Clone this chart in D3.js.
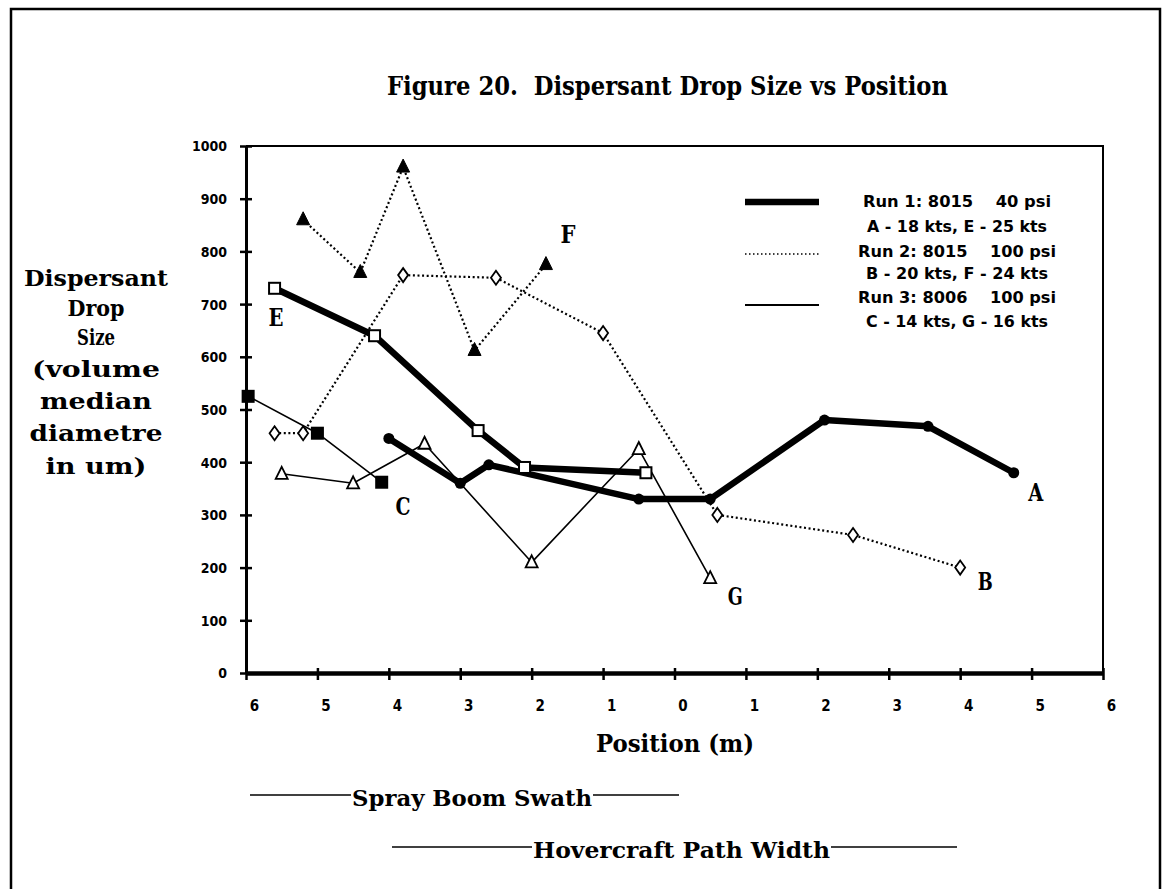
<!DOCTYPE html>
<html>
<head>
<meta charset="utf-8">
<script src="https://cdn.jsdelivr.net/npm/d3@7/dist/d3.min.js"></script>
<style>
  html, body { margin: 0; padding: 0; background: #fff; }
  svg { display: block; }
  text { fill: #000; }
</style>
</head>
<body>
<div id="chart"></div>
<script>
// ---------- DATA ----------
const title = "Figure 20.  Dispersant Drop Size vs Position";
const xTickValues = [-6, -5, -4, -3, -2, -1, 0, 1, 2, 3, 4, 5, 6];
const yTickValues = [0, 100, 200, 300, 400, 500, 600, 700, 800, 900, 1000];
const yTitleLines = ["Dispersant", "Drop", "Size", "(volume", "median", "diametre", "in um)"];
const xTitle = "Position (m)";

// Run 1 (thick solid) — A: 18 kts (filled dots), E: 25 kts (open squares)
const posA = [-4.0, -3.0, -2.6, -0.5, 0.5, 2.1, 3.55, 4.75];
const valA = [445, 360, 395, 330, 330, 480, 468, 380];
const posE = [-5.6, -4.2, -2.75, -2.1, -0.4];
const valE = [730, 640, 460, 390, 380];
// Run 2 (dotted) — B: 20 kts (open diamonds), F: 24 kts (filled triangles)
const posB = [-5.6, -5.2, -3.8, -2.5, -1.0, 0.6, 2.5, 4.0];
const valB = [455, 455, 755, 750, 645, 300, 262, 200];
const posF = [-5.2, -4.4, -3.8, -2.8, -1.8];
const valF = [860, 760, 960, 612, 775];
// Run 3 (thin solid) — C: 14 kts (filled squares), G: 16 kts (open triangles)
const posC = [-5.97, -5.0, -4.1];
const valC = [525, 455, 362];
const posG = [-5.5, -4.5, -3.5, -2.0, -0.5, 0.5];
const valG = [378, 360, 435, 210, 425, 180];

const legendLabels = [
  "Run 1: 8015    40 psi", "A - 18 kts, E - 25 kts",
  "Run 2: 8015    100 psi", "B - 20 kts, F - 24 kts",
  "Run 3: 8006    100 psi", "C - 14 kts, G - 16 kts"
];
// series letters and where they sit (position, value)
const seriesLetters = ["A", "B", "C", "E", "F", "G"];
const letterPosX = [5.06, 4.35, -3.8, -5.58, -1.49, 0.85];
const letterValY = [343, 174, 315, 674, 833, 146];
const footLabels = ["Spray Boom Swath", "Hovercraft Path Width"];

// ---------- LAYOUT ----------
const W = 1170, H = 889;
const L = 246, R = 1103, T = 146, B = 673;
const serif = "'DejaVu Serif', 'Liberation Serif', serif";
const sans = "'DejaVu Sans', 'Liberation Sans', sans-serif";

const svg = d3.select("#chart").append("svg")
  .attr("width", W).attr("height", H);

// outer frame (left, top, right)
svg.append("path")
  .attr("d", `M11,${H} L11,9 L1160,9 L1160,${H}`)
  .attr("fill", "none").attr("stroke", "#000").attr("stroke-width", 2.5);

const x = d3.scaleLinear().domain([-6, 6]).range([L, R]);
const y = d3.scaleLinear().domain([0, 1000]).range([B, T]);

// plot frame top/right
svg.append("path")
  .attr("d", `M${L},${T} L${R},${T} L${R},${B}`)
  .attr("fill", "none").attr("stroke", "#000").attr("stroke-width", 2);

// axes
const xAxis = d3.axisBottom(x).tickValues(xTickValues).tickSize(0).tickFormat(d => Math.abs(d));
const gx = svg.append("g").attr("transform", `translate(0,${B})`).call(xAxis);
gx.select(".domain").attr("stroke-width", 4.5).attr("stroke", "#000");
gx.selectAll(".tick text")
  .attr("y", 38).attr("dx", 8).attr("dy", 0)
  .style("font-family", sans).style("font-weight", "bold").style("font-stretch", "condensed")
  .style("font-size", "15px").attr("fill", "#000");
gx.selectAll(".tick").append("line")
  .attr("y1", -5).attr("y2", 7).attr("stroke", "#000").attr("stroke-width", 2.5);

const yAxis = d3.axisLeft(y).tickValues(yTickValues).tickSize(0).tickFormat(d3.format("d"));
const gy = svg.append("g").attr("transform", `translate(${L},0)`).call(yAxis);
gy.select(".domain").attr("stroke-width", 3).attr("stroke", "#000");
gy.selectAll(".tick text")
  .attr("x", -19).attr("dy", "0.35em")
  .style("font-family", sans).style("font-weight", "bold").style("font-stretch", "condensed")
  .style("font-size", "14px").attr("fill", "#000");
gy.selectAll(".tick").append("line")
  .attr("x1", -6).attr("x2", 6).attr("stroke", "#000").attr("stroke-width", 2.5);

// title
svg.append("text").attr("x", 387).attr("y", 95)
  .attr("textLength", 561).attr("lengthAdjust", "spacingAndGlyphs")
  .style("font-family", serif).style("font-weight", "bold").style("font-size", "26px")
  .style("white-space", "pre")
  .text(title);

// y title
const yTitleWidths = [144, 57, 38, 128, 112, 133, 101];
const yTitleBase = [286, 316, 345, 377, 409, 441, 474];
yTitleLines.forEach((t, i) => {
  svg.append("text").attr("x", 96 - yTitleWidths[i] / 2).attr("y", yTitleBase[i])
    .attr("textLength", yTitleWidths[i]).attr("lengthAdjust", "spacingAndGlyphs")
    .style("font-family", serif).style("font-weight", "bold").style("font-size", "23px")
    .text(t);
});

// x title
svg.append("text").attr("x", 596).attr("y", 752)
  .attr("textLength", 158).attr("lengthAdjust", "spacingAndGlyphs")
  .style("font-family", serif).style("font-weight", "bold").style("font-size", "24px")
  .text(xTitle);

// footer annotations
function footer(label, x0, x1, x2, x3, ly, by) {
  svg.append("line").attr("x1", x0).attr("x2", x1).attr("y1", ly).attr("y2", ly)
    .attr("stroke", "#000").attr("stroke-width", 1.5);
  svg.append("line").attr("x1", x2).attr("x2", x3).attr("y1", ly).attr("y2", ly)
    .attr("stroke", "#000").attr("stroke-width", 1.5);
  svg.append("text").attr("x", x1 + 1).attr("y", by)
    .attr("textLength", x2 - x1 - 2).attr("lengthAdjust", "spacingAndGlyphs")
    .style("font-family", serif).style("font-weight", "bold").style("font-size", "22px")
    .text(label);
}
footer(footLabels[0], 250, 351, 593, 679, 795, 806);
footer(footLabels[1], 392, 532, 831, 957, 847, 858);

// ---------- SERIES ----------
const line = d3.line().x(d => x(d[0])).y(d => y(d[1]));
const zip = (p, v) => p.map((d, i) => [d, v[i]]);

const series = [
  { data: zip(posB, valB), width: 2.2, dash: "2,2.6", marker: "diamondOpen" },
  { data: zip(posF, valF), width: 2.2, dash: "2,2.6", marker: "triFilled" },
  { data: zip(posC, valC), width: 1.6, dash: null, marker: "squareFilled" },
  { data: zip(posG, valG), width: 1.6, dash: null, marker: "triOpen" },
  { data: zip(posE, valE), width: 6.5, dash: null, marker: "squareOpen" },
  { data: zip(posA, valA), width: 6.5, dash: null, marker: "dotFilled" }
];

series.forEach(s => {
  svg.append("path").datum(s.data).attr("d", line)
    .attr("fill", "none").attr("stroke", "#000")
    .attr("stroke-width", s.width)
    .attr("stroke-dasharray", s.dash)
    .attr("stroke-linejoin", "round");
});

function drawMarker(g, type, px, py) {
  if (type === "diamondOpen") {
    g.append("path").attr("d", `M${px},${py-7} L${px+5},${py} L${px},${py+7} L${px-5},${py} Z`)
      .attr("fill", "#fff").attr("stroke", "#000").attr("stroke-width", 1.8);
  } else if (type === "triFilled") {
    g.append("path").attr("d", `M${px},${py-8} L${px+6.5},${py+5} L${px-6.5},${py+5} Z`)
      .attr("fill", "#000").attr("stroke", "#000").attr("stroke-width", 1);
  } else if (type === "triOpen") {
    g.append("path").attr("d", `M${px},${py-7} L${px+6},${py+5} L${px-6},${py+5} Z`)
      .attr("fill", "#fff").attr("stroke", "#000").attr("stroke-width", 1.8);
  } else if (type === "squareFilled") {
    g.append("rect").attr("x", px - 6.5).attr("y", py - 6.5).attr("width", 13).attr("height", 13)
      .attr("fill", "#000");
  } else if (type === "squareOpen") {
    g.append("rect").attr("x", px - 5.5).attr("y", py - 5.5).attr("width", 11).attr("height", 11)
      .attr("fill", "#fff").attr("stroke", "#000").attr("stroke-width", 2);
  } else if (type === "dotFilled") {
    g.append("circle").attr("cx", px).attr("cy", py).attr("r", 5.5).attr("fill", "#000");
  }
}
const mg = svg.append("g");
series.forEach(s => s.data.forEach(d => drawMarker(mg, s.marker, x(d[0]), y(d[1]))));

// series letters
seriesLetters.forEach((t, i) => {
  svg.append("text").attr("x", x(letterPosX[i])).attr("y", y(letterValY[i]))
    .attr("text-anchor", "middle").attr("dominant-baseline", "central")
    .attr("textLength", 15).attr("lengthAdjust", "spacingAndGlyphs")
    .style("font-family", serif).style("font-weight", "bold").style("font-size", "24px")
    .text(t);
});

// ---------- LEGEND ----------
const legY = [202, 227, 252, 274, 298, 322];
const legW = [188, 180, 198, 182, 198, 182];
legendLabels.forEach((t, i) => {
  svg.append("text").attr("x", 957 - legW[i] / 2).attr("y", legY[i])
    .attr("dominant-baseline", "central")
    .attr("textLength", legW[i]).attr("lengthAdjust", "spacingAndGlyphs")
    .style("white-space", "pre")
    .style("font-family", sans).style("font-weight", "bold").style("font-stretch", "condensed")
    .style("font-size", "15px")
    .text(t);
});
const legLines = [
  { y: 202, width: 6.5, dash: null },
  { y: 254, width: 1.6, dash: "1.5,2.5" },
  { y: 305, width: 1.8, dash: null }
];
legLines.forEach(l => {
  svg.append("line").attr("x1", 745).attr("x2", 819).attr("y1", l.y).attr("y2", l.y)
    .attr("stroke", "#000").attr("stroke-width", l.width).attr("stroke-dasharray", l.dash);
});
</script>
</body>
</html>
